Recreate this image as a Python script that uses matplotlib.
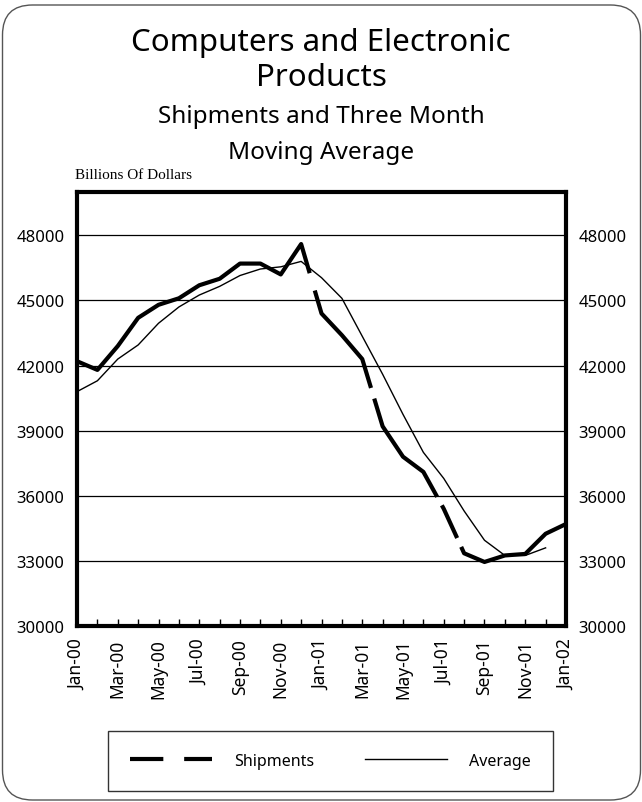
import matplotlib
matplotlib.use("Agg")
import matplotlib.pyplot as plt
from matplotlib.patches import FancyBboxPatch
from matplotlib.lines import Line2D

plt.rcParams['font.family'] = ['Noto Sans', 'DejaVu Sans']
plt.rcParams['lines.scale_dashes'] = False

months = ["Jan-00", "Feb-00", "Mar-00", "Apr-00", "May-00", "Jun-00", "Jul-00", "Aug-00",
          "Sep-00", "Oct-00", "Nov-00", "Dec-00", "Jan-01", "Feb-01", "Mar-01", "Apr-01",
          "May-01", "Jun-01", "Jul-01", "Aug-01", "Sep-01", "Oct-01", "Nov-01", "Dec-01",
          "Jan-02"]
shipments = [42200, 41800, 42900, 44200, 44800, 45100, 45700, 46000, 46700, 46700, 46200,
             47600, 44400, 43400, 42300, 39200, 37800, 37100, 35400, 33350, 32950, 33250,
             33320, 34250, 34700]
average = [40800, 41300, 42300, 42950, 43950, 44700, 45250, 45650, 46150, 46450, 46550,
           46800, 46050, 45100, 43350, 41600, 39750, 38000, 36800, 35300, 33950, 33250,
           33250, 33600]
yticks = [30000, 33000, 36000, 39000, 42000, 45000, 48000]
xtick_labels = months[::2]

fig = plt.figure(figsize=(6.42, 8.03), dpi=100)

# rounded outer frame (in inches)
frame = FancyBboxPatch((0.025, 0.02), 6.38, 7.95, boxstyle="round,pad=0,rounding_size=0.3",
                       transform=fig.dpi_scale_trans, fill=False, edgecolor="#555555", lw=1.0)
fig.patches.append(frame)

fig.text(0.5, 0.947, "Computers and Electronic", ha="center", va="center", fontsize=22.5)
fig.text(0.5, 0.903, "Products", ha="center", va="center", fontsize=22.5)
fig.text(0.5, 0.854, "Shipments and Three Month", ha="center", va="center", fontsize=17.5)
fig.text(0.5, 0.810, "Moving Average", ha="center", va="center", fontsize=17.5)
fig.text(0.117, 0.781, "Billions Of Dollars", ha="left", va="center", fontsize=11,
         family="Liberation Serif")

ax = fig.add_axes([0.12, 0.2192, 0.7616, 0.5405])
x = list(range(len(months)))
ax.plot(x[:len(average)], average, color="black", lw=1.0, label="Average", zorder=3)
ax.plot(x, shipments, color="black", lw=3.0,
        dashes=(227, 13, 83, 8, 86, 7, 26, 7, 720, 1),
        label="Shipments", solid_capstyle="butt", dash_capstyle="butt", zorder=4)

ax.set_xlim(0, len(months) - 1)
ax.set_ylim(30000, 50000)
ax.set_yticks(yticks)
ax.set_yticklabels([str(v) for v in yticks])
ax.yaxis.grid(True, color="black", lw=0.9)
ax.set_axisbelow(True)
ax.tick_params(axis="y", length=0, labelsize=12, labelright=True, pad=9)
ax.set_xticks(x, minor=True)
ax.set_xticks(x[::2])
ax.set_xticklabels(xtick_labels, rotation=90, fontsize=12.5)
ax.tick_params(axis="x", which="both", direction="in", length=5, width=1, pad=9)
for s in ax.spines.values():
    s.set_linewidth(3)

handles = [Line2D([], [], color="black", lw=3.0, dashes=(24, 15)),
           Line2D([], [], color="black", lw=1.0)]
leg = fig.legend(handles, ["Shipments", "Average"], loc="center",
                 bbox_to_anchor=(0.515, 0.0515), ncol=2, frameon=True, fancybox=False,
                 edgecolor="black", fontsize=11.5, handlelength=5.1, columnspacing=3.2,
                 borderpad=1.38, handletextpad=1.4, borderaxespad=0)
leg.get_frame().set_linewidth(1.0)

fig.savefig("out.png", dpi=100)
